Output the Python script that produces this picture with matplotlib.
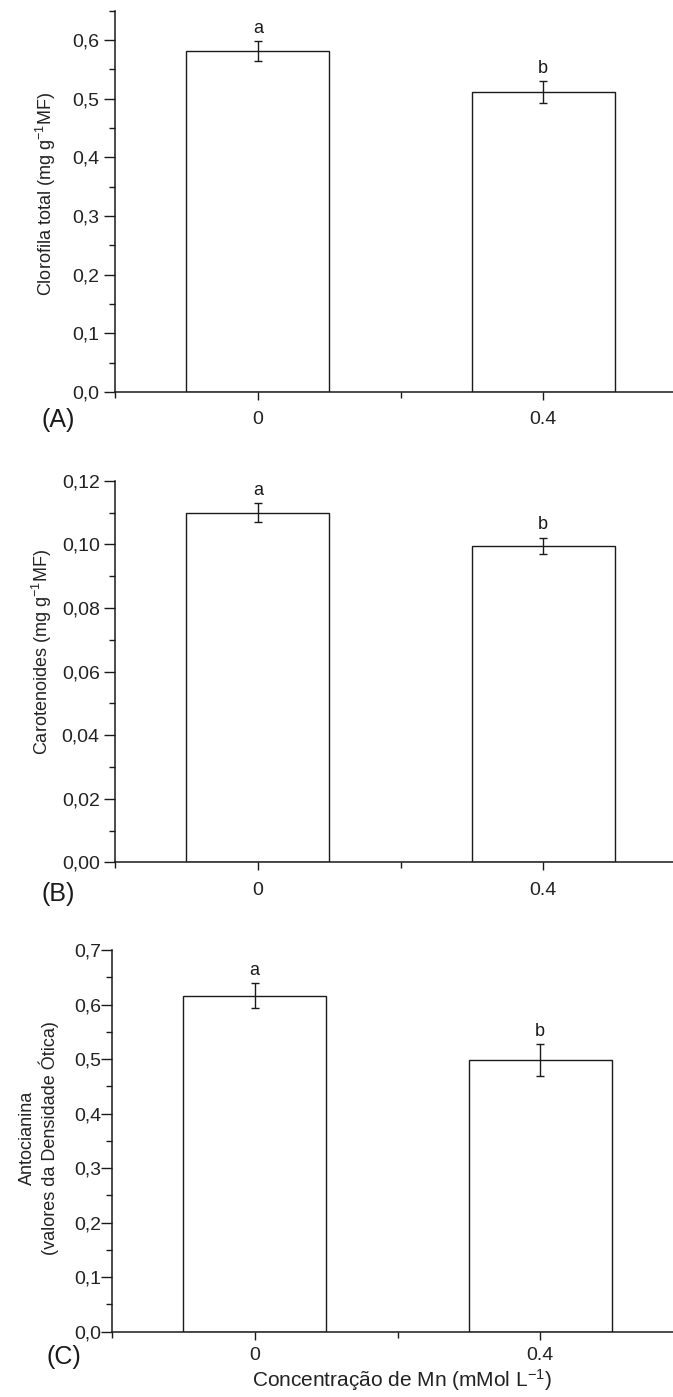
import matplotlib
matplotlib.use('Agg')
import matplotlib.pyplot as plt
from matplotlib.ticker import MultipleLocator, FuncFormatter

plt.rcParams['font.family'] = ['Liberation Sans', 'DejaVu Sans']
plt.rcParams['mathtext.default'] = 'regular'

# Mn concentrations (mMol/L) and group letters
groups = ['0', '0.4']
letters = ['a', 'b']

# pigment means and standard errors per treatment
clorofila = [0.581, 0.511]
clorofila_err = [0.017, 0.019]
carotenoides = [0.110, 0.0995]
carotenoides_err = [0.003, 0.0026]
antocianina = [0.616, 0.498]
antocianina_err = [0.023, 0.029]

W, H = 673, 1397
fig = plt.figure(figsize=(W / 100, H / 100), dpi=100)

ink = '#1a1a1a'


def panel(left_px, top_px, bottom_px, values, errs, ytop, major, minor, decimals,
          ylabel, label_xy, tag, tag_xy, ypad=3, xpad=8):
    right_px = left_px + 571
    ax = fig.add_axes([left_px / W, 1 - bottom_px / H,
                       (right_px - left_px) / W, (bottom_px - top_px) / H])
    x = list(range(len(groups)))
    ax.bar(x, values, width=0.5, color='white', edgecolor=ink, linewidth=1.0,
           yerr=errs, error_kw=dict(ecolor=ink, elinewidth=1.0, capsize=3, capthick=1.0))
    for xi, v, e, letter in zip(x, values, errs, letters):
        ax.annotate(letter, (xi, v + e), xytext=(0, 3), textcoords='offset points',
                    ha='center', va='bottom', fontsize=13, color=ink)

    ax.set_xlim(-0.5, 1.5)
    ax.set_ylim(0, ytop)
    ax.set_xticks(x)
    ax.set_xticklabels(groups)
    ax.xaxis.set_minor_locator(MultipleLocator(0.5))
    ax.yaxis.set_major_locator(MultipleLocator(major))
    ax.yaxis.set_minor_locator(MultipleLocator(minor))
    ax.yaxis.set_major_formatter(FuncFormatter(
        lambda v, p: f'{v:.{decimals}f}'.replace('.', ',')))

    for side in ('top', 'right'):
        ax.spines[side].set_visible(False)
    for side in ('left', 'bottom'):
        ax.spines[side].set_linewidth(1.1)
        ax.spines[side].set_color(ink)

    ax.tick_params(axis='y', which='major', direction='out', length=8, width=1,
                   labelsize=14, pad=ypad, color=ink, labelcolor='#222222')
    ax.tick_params(axis='y', which='minor', direction='out', length=4, width=1, color=ink)
    ax.tick_params(axis='x', which='major', direction='out', length=6, width=1,
                   labelsize=14, pad=xpad, color=ink, labelcolor='#222222')
    ax.tick_params(axis='x', which='minor', direction='out', length=4, width=1, color=ink)

    ax.set_ylabel(ylabel, fontsize=13, color='#222222', linespacing=1.2)
    ax.yaxis.set_label_coords(*label_xy)

    fig.text(tag_xy[0] / W, 1 - tag_xy[1] / H, tag, fontsize=18,
             ha='center', va='center', color=ink)
    return ax


panel(115, 10.7, 392, clorofila, clorofila_err, 0.65, 0.1, 0.05, 1,
      r'Clorofila total (mg g$^{-1}$MF)', (-0.10, 0.52), '(A)', (58, 420))

panel(115, 480.7, 862.3, carotenoides, carotenoides_err, 0.12, 0.02, 0.01, 2,
      r'Carotenoides (mg g$^{-1}$MF)', (-0.107, 0.55), '(B)', (58, 894))

ax_c = panel(112, 950, 1331.7, antocianina, antocianina_err, 0.7, 0.1, 0.05, 1,
             'Antocianina\n(valores da Densidade Ótica)', (-0.092, 0.507), '(C)', (64, 1357),
             ypad=0, xpad=5)
ax_c.set_xlabel(r'Concentração de Mn (mMol L$^{-1}$)', fontsize=15, color='#222222')
ax_c.xaxis.set_label_coords((402 - 112) / 571, -0.093)

fig.savefig('out.png', dpi=100)
